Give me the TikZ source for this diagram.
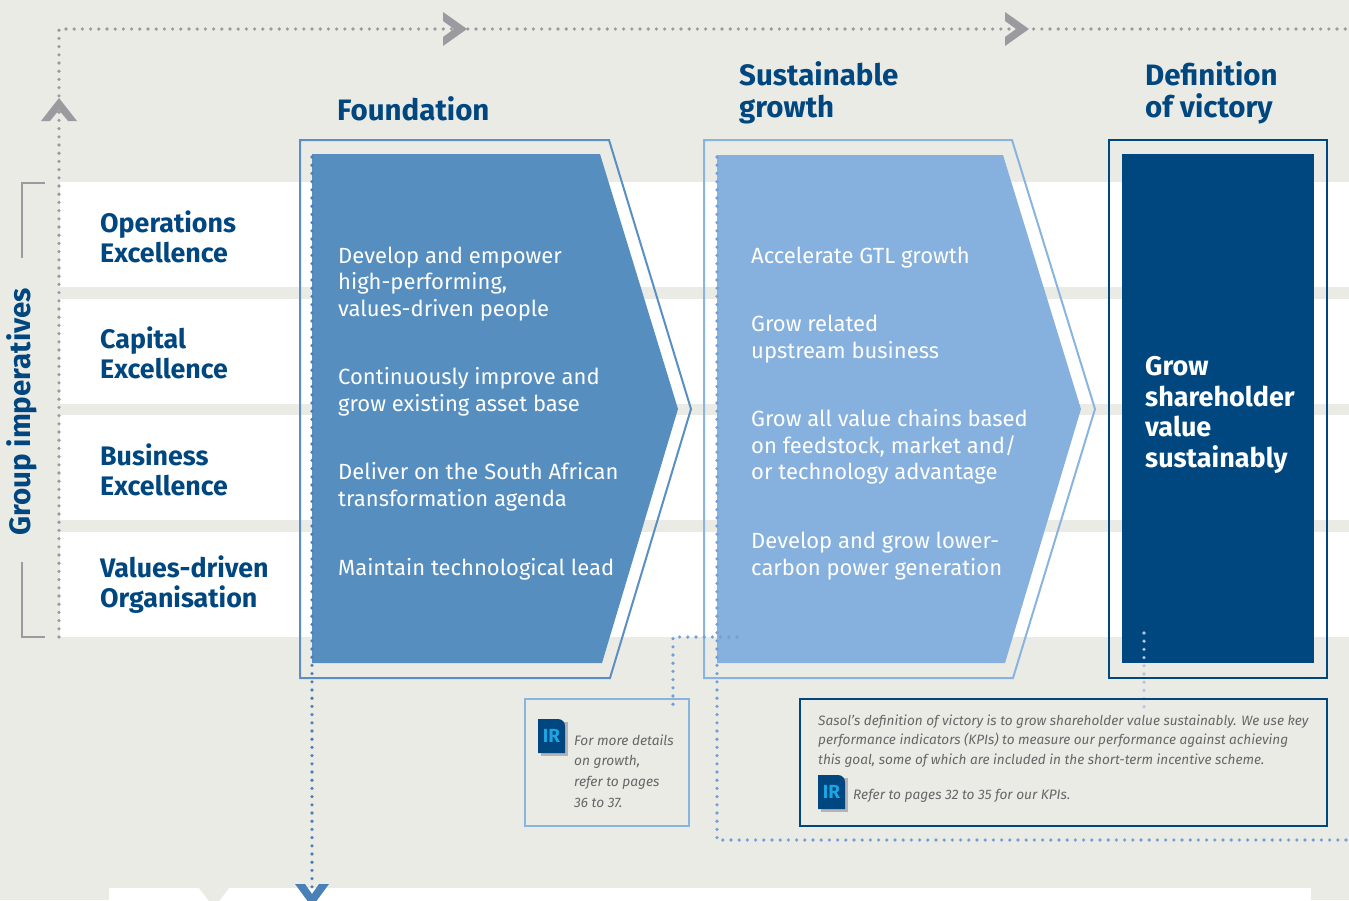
\documentclass[tikz,border=0pt]{standalone}
\usepackage{fontspec}
\setmainfont{Fira Sans}
\definecolor{bg}{HTML}{EBEBE6}
\definecolor{navy}{HTML}{00467F}
\definecolor{fblue}{HTML}{558EBF}
\definecolor{foutline}{HTML}{5A8FC4}
\definecolor{sblue}{HTML}{86B0DD}
\definecolor{soutline}{HTML}{8AB4E0}
\definecolor{vnavy}{HTML}{00477F}
\definecolor{dotgrey}{HTML}{9B9B9F}
\definecolor{dotblue}{HTML}{4A80B8}
\definecolor{dotlblue}{HTML}{6FA0D6}
\definecolor{dotpale}{HTML}{B8C4DE}
\definecolor{irgrey}{HTML}{666666}
\definecolor{ircyan}{HTML}{1BA6E3}
\definecolor{shadowgrey}{HTML}{B4B4B8}
\usetikzlibrary{calc}
\tikzset{
  dotline/.style={line width=3.6pt, line cap=round, dash pattern=on 0pt off 8.2pt},
  rowlabel/.style={anchor=west, align=left, inner sep=0pt, text=navy, font=\fontsize{26.8}{30}\selectfont\bfseries},
  header/.style={anchor=west, align=left, inner sep=0pt, text=navy, font=\fontsize{29.5}{32}\selectfont\bfseries},
  chevtext/.style={anchor=west, align=left, inner sep=0pt, text=white, font=\fontsize{22}{26.5}\selectfont},
  notetext/.style={anchor=west, align=left, inner sep=0pt, text=irgrey, font=\fontsize{13.7}{20.8}\selectfont\itshape},
}
\newcommand{\iricon}[2]{%
  \fill[shadowgrey] ($(#1)+(3,3)$) rectangle ++(27,34);
  \fill[navy] (#1) ++(0,34) -- ++(0,-34) [rounded corners=7pt] -- ++(27,0) [sharp corners] -- ++(0,34) -- cycle;
  \node[inner sep=0pt, text=ircyan, font=\fontsize{19}{19}\selectfont\bfseries] (#2) at ($(#1)+(13.5,17)$) {IR};
}
\begin{document}
\begin{tikzpicture}[x=1pt,y=-1pt]
\useasboundingbox (0,0) rectangle (1349,900);
\fill[bg] (0,0) rectangle (1349,900);
% row bands
\fill[white] (60,182) rectangle (1349,287);
\fill[white] (60,299) rectangle (1349,404);
\fill[white] (60,415) rectangle (1349,520);
\fill[white] (60,532) rectangle (1349,637);
% bottom band
\fill[white] (109,888) rectangle (1311,900);
\fill[bg] (199,888) -- (229,888) -- (214,908) -- cycle;

% grey loop
\coordinate (gstart) at (59,637);
\coordinate (gcorner) at (59,29);
\coordinate (gend) at (1349,29);
\draw[dotline, dotgrey] (gstart) -- (gcorner) -- (gend);
\fill[dotgrey] (59,98) -- (77,121) -- (68,121) -- (59,110) -- (50,121) -- (41,121) -- cycle;
\fill[dotgrey] (443,12) -- (467,29) -- (443,46) -- (443,37) -- (454,29) -- (443,21) -- cycle;
\fill[dotgrey] (1005,12) -- (1029,29) -- (1005,46) -- (1005,37) -- (1016,29) -- (1005,21) -- cycle;

% bracket
\draw[dotgrey, line width=2.2pt] (45,183) -- (22,183) -- (22,258);
\draw[dotgrey, line width=2.2pt] (22,562) -- (22,637) -- (45,637);
\node[rotate=90, inner sep=0pt, text=navy, font=\fontsize{29.5}{32}\selectfont\bfseries] (gi) at (22,412) {Group imperatives};

% row labels
\node[rowlabel] (r1) at (100,237) {Operations\\Excellence};
\node[rowlabel] (r2) at (100,353) {Capital\\Excellence};
\node[rowlabel] (r3) at (100,470) {Business\\Excellence};
\node[rowlabel] (r4) at (100,585) {Values-driven\\Organisation};

% headers
\node[header] (h1) at (337,109) {Foundation};
\node[header] (h2) at (739,93) {Sustainable\\growth};
\node[header] (h3) at (1145,93) {Definition\\of victory};

% foundation chevron
\draw[foutline, line width=2pt] (300,140) -- (609,140) -- (691,409) -- (610,678) -- (300,678) -- cycle;
\fill[fblue] (312,154) -- (600,154) -- (678,409) -- (602,663) -- (312,663) -- cycle;
% sustainable chevron
\draw[soutline, line width=2pt] (704,140) -- (1012,140) -- (1095,409) -- (1013,678) -- (704,678) -- cycle;
\fill[sblue] (717,155) -- (1003,155) -- (1081,409) -- (1005,663) -- (717,663) -- cycle;
% victory
\draw[vnavy, line width=2.4pt] (1109,140) rectangle (1327,678);
\fill[vnavy] (1122,154) rectangle (1314,663);

% dotted lines
\coordinate (fd1) at (312,157);
\coordinate (fd2) at (312,890);
\draw[dotline, dotblue] (fd1) -- (fd2);
\fill[dotblue] (295,884) -- (305,884) -- (312,894) -- (319,884) -- (329,884) -- (312,907) -- cycle;
\coordinate (sd1) at (717,157);
\coordinate (sd2) at (717,840);
\coordinate (sd3) at (1349,840);
\draw[dotline, dotlblue] (sd1) -- (sd2) -- (sd3);
\coordinate (id1) at (737,637);
\coordinate (id2) at (673,637);
\coordinate (id3) at (673,710);
\draw[dotline, dotlblue] (id1) -- (id2) -- (id3);
\coordinate (vd1) at (1144,633);
\coordinate (vd2) at (1144,710);
\draw[dotline, dotpale] (vd1) -- (vd2);

% foundation texts
\node[chevtext] (f1) at (338,284) {Develop and empower\\high-performing,\\values-driven people};
\node[chevtext] (f2) at (338,392) {Continuously improve and\\grow existing asset base};
\node[chevtext] (f3) at (338,487) {Deliver on the South African\\transformation agenda};
\node[chevtext] (f4) at (338,569) {Maintain technological lead};
% sustainable texts
\node[chevtext] (s1) at (751,258) {Accelerate GTL growth};
\node[chevtext] (s2) at (751,339) {Grow related\\upstream business};
\node[chevtext] (s3) at (751,447) {Grow all value chains based\\on feedstock, market and/\\or technology advantage};
\node[chevtext] (s4) at (751,556) {Develop and grow lower-\\carbon power generation};
% victory text
\node[anchor=west, align=left, inner sep=0pt, text=white, font=\fontsize{27}{30.7}\selectfont\bfseries] (v1) at (1145,415) {Grow\\shareholder\\value\\sustainably};

% IR box 1
\draw[soutline, line width=2pt] (525,699) rectangle (689,826);
\iricon{538,719}{ir1}
\node[notetext] (n1) at (574,771) {For more details\\on growth,\\refer to pages\\36 to 37.};

% note box 2
\draw[vnavy, line width=2pt] (800,699) rectangle (1327,826);
\node[notetext, font=\fontsize{13.6}{19.7}\selectfont\itshape] (n2) at (818,741) {Sasol’s definition of victory is to grow shareholder value sustainably. We use key\\performance indicators (KPIs) to measure our performance against achieving\\this goal, some of which are included in the short-term incentive scheme.};
\iricon{818,775}{ir2}
\node[notetext] (n3) at (853,796) {Refer to pages 32 to 35 for our KPIs.};
\end{tikzpicture}
\end{document}
